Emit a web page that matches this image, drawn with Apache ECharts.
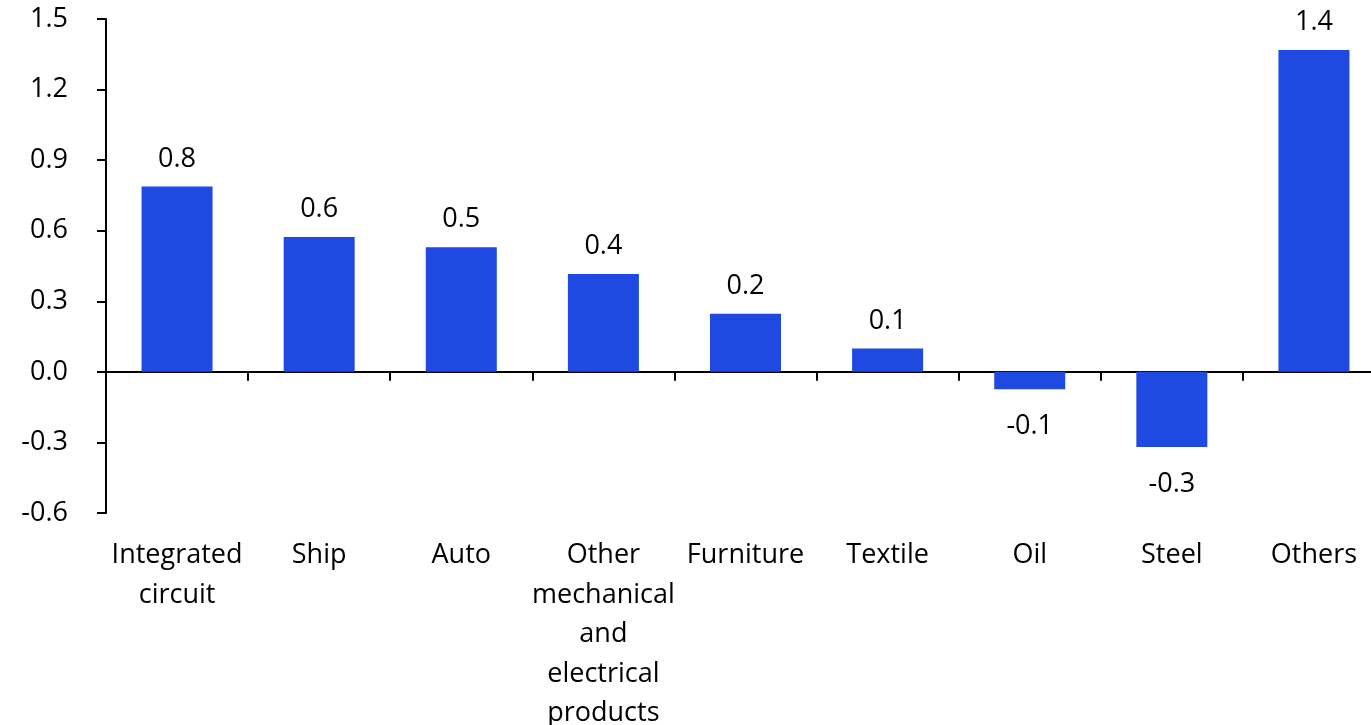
<!DOCTYPE html>
<html>
<head>
<meta charset="utf-8">
<script src="https://cdn.jsdelivr.net/npm/echarts@6/dist/echarts.min.js"></script>
<style>
  html, body { margin: 0; padding: 0; background: #ffffff; overflow: hidden; }
  #chart { width: 1371px; height: 725px; }
</style>
</head>
<body>
<div id="chart"></div>
<script>
// Contribution by product category
const categories = [
  'Integrated\ncircuit', 'Ship', 'Auto',
  'Other\nmechanical\nand\nelectrical\nproducts',
  'Furniture', 'Textile', 'Oil', 'Steel', 'Others'
];
const values = [0.788, 0.573, 0.530, 0.416, 0.247, 0.099, -0.074, -0.319, 1.368];
const yTicks = { min: -0.6, max: 1.5, interval: 0.3 };

const FONT = '"Open Sans"';
const FONT_SIZE = 27;
const BAR_COLOR = '#1f4ae1';

const seriesData = values.map(v => ({
  value: v,
  label: v < 0
    ? { position: 'bottom', distance: 24 }
    : { position: 'top', distance: 14 }
}));

const chart = echarts.init(document.getElementById('chart'), null, { renderer: 'canvas' });
chart.setOption({
  animation: false,
  backgroundColor: '#ffffff',
  grid: {
    left: 106, top: 19, bottom: 212, width: 1279,
    containLabel: false, outerBoundsMode: 'none'
  },
  xAxis: [
    {
      type: 'category',
      data: categories,
      axisLine: { onZero: true, lineStyle: { color: '#000', width: 2 } },
      axisTick: { show: true, length: 9, lineStyle: { color: '#000', width: 2 } },
      axisLabel: { show: false }
    },
    {
      type: 'category',
      data: categories,
      position: 'bottom',
      axisLine: { show: false },
      axisTick: { show: false },
      axisLabel: {
        show: true, interval: 0, margin: 23,
        fontFamily: FONT, fontSize: FONT_SIZE, lineHeight: 39.5, color: '#000'
      }
    }
  ],
  yAxis: {
    type: 'value',
    min: yTicks.min, max: yTicks.max, interval: yTicks.interval,
    splitLine: { show: false },
    axisLine: { show: true, onZero: false, lineStyle: { color: '#000', width: 2 } },
    axisTick: { show: true, length: 9, lineStyle: { color: '#000', width: 2 } },
    axisLabel: {
      margin: 38, fontFamily: FONT, fontSize: FONT_SIZE, color: '#000',
      formatter: v => v.toFixed(1)
    }
  },
  series: [{
    type: 'bar',
    xAxisIndex: 0,
    data: seriesData,
    barWidth: 71,
    itemStyle: { color: BAR_COLOR },
    label: {
      show: true, fontFamily: FONT, fontSize: FONT_SIZE, color: '#000',
      formatter: p => p.value.toFixed(1)
    }
  }]
});
</script>
</body>
</html>
